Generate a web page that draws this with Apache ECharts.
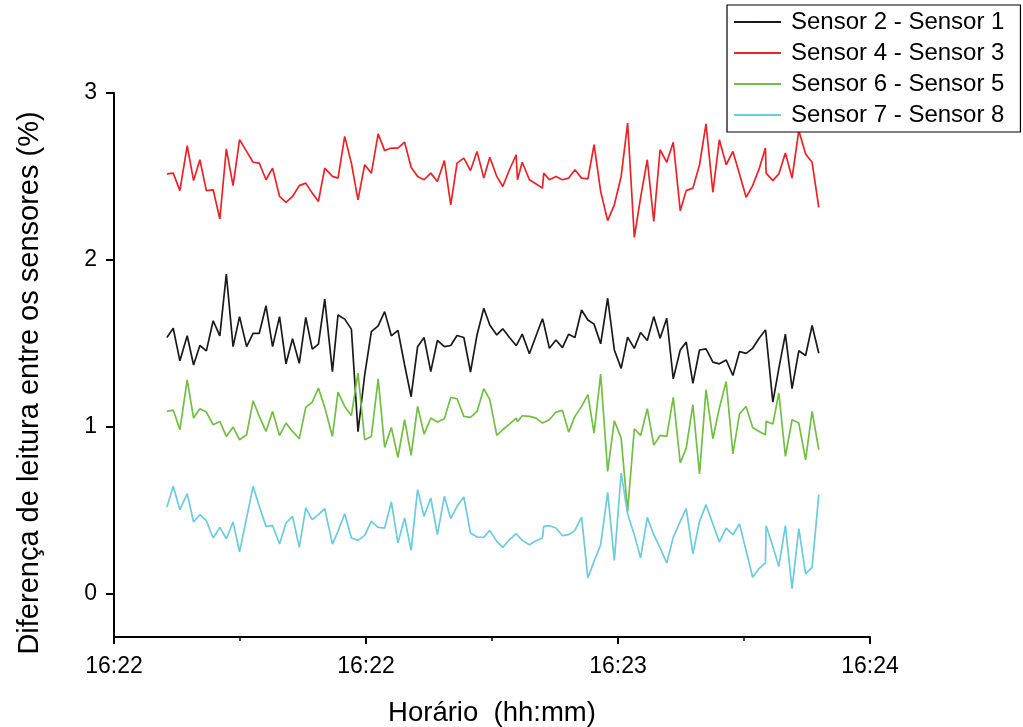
<!DOCTYPE html>
<html>
<head>
<meta charset="utf-8">
<title>Diferença de leitura entre os sensores</title>
<script src="https://cdn.jsdelivr.net/npm/echarts@6/dist/echarts.min.js"></script>
<style>
  html, body { margin: 0; padding: 0; background: #fff; }
  #chart { width: 1023px; height: 727px; }
</style>
</head>
<body>
<div id="chart"></div>
<script>
// tempo em segundos a partir de 16:21:40
var tempos = [8.40, 9.40, 10.46, 11.62, 12.63, 13.63, 14.66, 15.74, 16.80, 17.83,
  18.90, 19.93, 21.05, 22.08, 23.06, 24.13, 25.17, 26.28, 27.30, 28.34,
  29.41, 30.44, 31.47, 32.45, 33.45, 34.67, 35.56, 36.62, 37.68, 38.73,
  39.79, 40.85, 41.93, 42.96, 44.02, 45.07, 46.13, 47.16, 48.19, 49.22,
  50.28, 51.33, 52.44, 53.45, 54.45, 55.53, 56.59, 57.62, 58.70, 59.65,
  60.76, 61.71, 62.77, 63.84, 64.04, 64.80, 65.94, 67.01, 68.01, 68.21,
  69.11, 70.15, 71.18, 72.17, 73.16, 74.22, 75.22, 76.20, 77.25, 78.36,
  79.42, 80.50, 81.53, 82.59, 83.59, 84.65, 85.68, 86.68, 87.74, 88.77,
  89.88, 90.83, 91.89, 92.94, 93.97, 95.06, 96.09, 97.17, 98.24, 99.28,
  100.34, 101.37, 102.40, 103.40, 103.51, 104.58, 105.53, 106.57, 107.63, 108.70,
  109.78, 110.81, 111.87];

var s2s1 = [1.535, 1.59, 1.395, 1.545, 1.37, 1.487, 1.455, 1.635, 1.545, 1.915,
  1.48, 1.66, 1.48, 1.56, 1.56, 1.725, 1.48, 1.66, 1.377, 1.527,
  1.38, 1.655, 1.465, 1.495, 1.765, 1.33, 1.67, 1.645, 1.585, 0.97,
  1.31, 1.57, 1.605, 1.69, 1.545, 1.577, 1.37, 1.18, 1.48, 1.535,
  1.33, 1.517, 1.48, 1.487, 1.547, 1.535, 1.328, 1.55, 1.71, 1.61,
  1.55, 1.587, 1.535, 1.487, 1.50, 1.555, 1.437, 1.547, 1.647, 1.62,
  1.47, 1.52, 1.474, 1.555, 1.535, 1.70, 1.64, 1.615, 1.497, 1.77,
  1.46, 1.35, 1.537, 1.47, 1.565, 1.517, 1.66, 1.53, 1.65, 1.287,
  1.46, 1.507, 1.26, 1.46, 1.467, 1.387, 1.377, 1.40, 1.307, 1.45,
  1.44, 1.47, 1.53, 1.58, 1.55, 1.148, 1.35, 1.555, 1.228, 1.455,
  1.427, 1.607, 1.44];

var s4s3 = [2.515, 2.52, 2.415, 2.685, 2.475, 2.60, 2.415, 2.42, 2.245, 2.665,
  2.445, 2.72, 2.65, 2.585, 2.58, 2.48, 2.55, 2.38, 2.345, 2.38,
  2.445, 2.46, 2.40, 2.35, 2.55, 2.50, 2.49, 2.74, 2.58, 2.36,
  2.57, 2.52, 2.755, 2.655, 2.67, 2.67, 2.705, 2.555, 2.50, 2.48,
  2.52, 2.47, 2.595, 2.33, 2.58, 2.61, 2.535, 2.65, 2.49, 2.615,
  2.50, 2.44, 2.54, 2.63, 2.48, 2.585, 2.48, 2.455, 2.43, 2.52,
  2.48, 2.50, 2.48, 2.49, 2.54, 2.49, 2.485, 2.69, 2.41, 2.235,
  2.33, 2.50, 2.82, 2.135, 2.375, 2.60, 2.23, 2.66, 2.585, 2.705,
  2.295, 2.415, 2.43, 2.57, 2.815, 2.405, 2.72, 2.57, 2.65, 2.515,
  2.375, 2.445, 2.545, 2.67, 2.52, 2.475, 2.515, 2.64, 2.49, 2.775,
  2.635, 2.585, 2.315];

var s6s5 = [1.092, 1.10, 0.982, 1.281, 1.052, 1.108, 1.088, 1.012, 1.032, 0.942,
  0.998, 0.922, 0.952, 1.156, 1.062, 0.972, 1.092, 0.948, 1.022, 0.972,
  0.928, 1.116, 1.148, 1.232, 1.116, 0.942, 1.208, 1.122, 1.068, 1.321,
  0.922, 0.942, 1.287, 0.876, 0.996, 0.816, 1.042, 0.828, 1.122, 0.956,
  1.052, 1.028, 1.048, 1.176, 1.168, 1.062, 1.056, 1.092, 1.228, 1.162,
  0.948, 0.982, 1.016, 1.052, 1.03, 1.066, 1.062, 1.052, 1.022, 1.03,
  1.042, 1.088, 1.098, 0.968, 1.062, 1.122, 1.192, 0.962, 1.316, 0.732,
  1.036, 0.932, 0.493, 0.988, 0.948, 1.108, 0.89, 0.948, 0.942, 1.176,
  0.783, 0.872, 1.132, 0.717, 1.222, 0.928, 1.112, 1.271, 0.837, 1.076,
  1.122, 0.996, 0.972, 0.952, 1.032, 1.016, 1.202, 0.822, 1.042, 1.022,
  0.802, 1.092, 0.862];

var s7s8 = [0.517, 0.643, 0.503, 0.599, 0.429, 0.473, 0.437, 0.333, 0.397, 0.329,
  0.429, 0.25, 0.453, 0.643, 0.523, 0.403, 0.407, 0.297, 0.423, 0.463,
  0.277, 0.513, 0.443, 0.473, 0.509, 0.297, 0.373, 0.479, 0.333, 0.319,
  0.349, 0.433, 0.397, 0.393, 0.549, 0.304, 0.453, 0.259, 0.623, 0.463,
  0.573, 0.353, 0.583, 0.449, 0.523, 0.579, 0.363, 0.339, 0.337, 0.379,
  0.313, 0.277, 0.323, 0.359, 0.35, 0.319, 0.293, 0.317, 0.333, 0.403,
  0.407, 0.393, 0.347, 0.353, 0.379, 0.459, 0.094, 0.193, 0.293, 0.607,
  0.199, 0.723, 0.477, 0.353, 0.214, 0.457, 0.353, 0.274, 0.184, 0.337,
  0.433, 0.509, 0.238, 0.433, 0.533, 0.417, 0.31, 0.393, 0.353, 0.417,
  0.257, 0.098, 0.15, 0.184, 0.407, 0.283, 0.163, 0.407, 0.03, 0.389,
  0.118, 0.157, 0.593];

var xLabels = ['16:22', '16:22', '16:23', '16:24'];
var yTicks = [0, 1, 2, 3];
var nomes = ['Sensor 2 - Sensor 1', 'Sensor 4 - Sensor 3', 'Sensor 6 - Sensor 5', 'Sensor 7 - Sensor 8'];
var cores = ['#1a1a1a', '#ec2228', '#72bf44', '#6ccbdc'];

function pares(vals) {
  return tempos.map(function (t, i) { return [t, vals[i]]; });
}

var fonte = '"Liberation Sans", Arial, sans-serif';
var chart = echarts.init(document.getElementById('chart'));

var series = [s2s1, s4s3, s6s5, s7s8].map(function (vals, i) {
  return {
    name: nomes[i],
    type: 'line',
    data: pares(vals),
    symbol: 'none',
    lineStyle: { width: 1.7, color: cores[i] },
    itemStyle: { color: cores[i] },
    animation: false
  };
});

chart.setOption({
  backgroundColor: '#fff',
  grid: { left: 114, right: 153, top: 93, bottom: 90, containLabel: false, outerBoundsMode: 'none' },
  legend: {
    data: nomes,
    orient: 'vertical',
    left: 727,
    top: 5,
    padding: [5, 16, 5, 6],
    itemGap: 7,
    itemWidth: 47,
    itemHeight: 2,
    backgroundColor: '#fff',
    borderColor: '#000',
    borderWidth: 1.2,
    textStyle: { fontFamily: fonte, fontSize: 24, color: '#000', lineHeight: 24, padding: [0, 0, 0, 5] },
    z: 10
  },
  xAxis: {
    type: 'value',
    min: 0,
    max: 120,
    interval: 40,
    name: 'Horário  (hh:mm)',
    nameLocation: 'middle',
    nameGap: 62,
    nameTextStyle: { fontFamily: fonte, fontSize: 27.5, color: '#000' },
    axisLine: { show: true, onZero: false, lineStyle: { color: '#000', width: 2 } },
    axisTick: { show: true, length: 7, lineStyle: { color: '#000', width: 2 } },
    minorTick: { show: true, splitNumber: 2, length: 4, lineStyle: { color: '#000', width: 1.5 } },
    splitLine: { show: false },
    axisLabel: {
      fontFamily: fonte, fontSize: 23, color: '#000', margin: 18,
      formatter: function (v) { return xLabels[Math.round(v / 40)]; }
    }
  },
  yAxis: {
    type: 'value',
    min: -0.26,
    max: 3,
    name: 'Diferença de leitura entre os sensores (%)',
    nameLocation: 'middle',
    nameGap: 70,
    nameTextStyle: { fontFamily: fonte, fontSize: 29, color: '#000', padding: [0, 36, 0, 0] },
    axisLine: { show: true, onZero: false, lineStyle: { color: '#000', width: 2 } },
    axisTick: { show: true, length: 8, customValues: yTicks, lineStyle: { color: '#000', width: 2 } },
    splitLine: { show: false },
    axisLabel: { fontFamily: fonte, fontSize: 23, color: '#000', margin: 17, customValues: yTicks }
  },
  series: series
});
</script>
</body>
</html>
